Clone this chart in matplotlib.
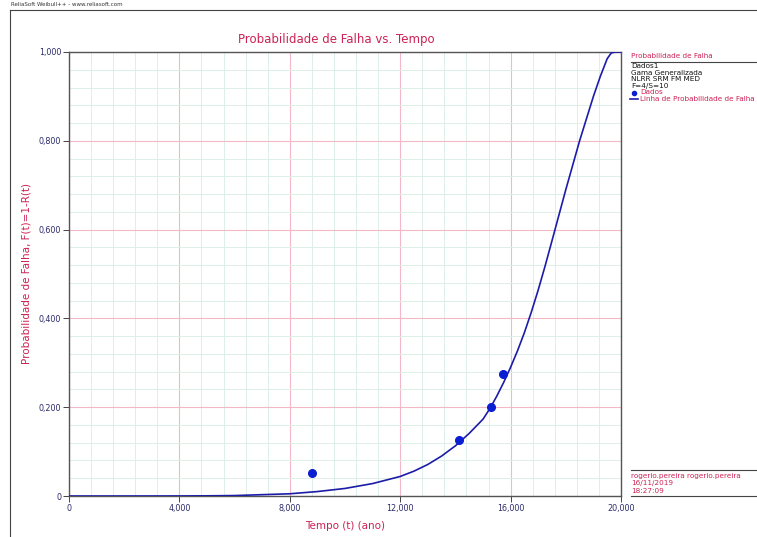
import numpy as np
import matplotlib
matplotlib.use("Agg")
import matplotlib.pyplot as plt
from matplotlib.lines import Line2D
from matplotlib.ticker import MultipleLocator, FuncFormatter

# data
dados_t = [8800, 14130, 15290, 15725]
dados_f = [0.052, 0.126, 0.200, 0.275]

linha_t = [0, 2000, 4000, 5000, 6000, 7000, 8000, 9000, 10000, 11000, 12000,
           12500, 13000, 13500, 14000, 14500, 15000, 15250, 15500, 15750, 16000,
           16250, 16500, 16750, 17000, 17250, 17500, 18000, 18500, 19000, 19250,
           19500, 19650, 19800, 20000]
linha_f = [0, 0, 0.0001, 0.0004, 0.001, 0.003, 0.005, 0.010, 0.017, 0.028, 0.044,
           0.056, 0.071, 0.090, 0.113, 0.141, 0.173, 0.197, 0.225, 0.256, 0.290,
           0.327, 0.368, 0.414, 0.464, 0.518, 0.575, 0.690, 0.800, 0.900, 0.945,
           0.985, 0.998, 1.0, 1.0]

legenda_info = ["Dados1", "Gama Generalizada", "NLRR SRM FM MED", "F=4/S=10"]
rodape = ["rogerio.pereira rogerio.pereira", "16/11/2019", "18:27:09"]

W, H = 757, 537
crimson = "#cc2255"
navy = "#2b2b6b"
blue_line = "#1c1ca8"
blue_dot = "#0a1ed2"

def px(x, y):
    return x / W, 1 - y / H

fig = plt.figure(figsize=(W / 100, H / 100), dpi=100)
fig.patch.set_facecolor("white")

ax = fig.add_axes([69 / W, (H - 496) / H, 552 / W, 444 / H])
ax.set_xlim(0, 20000)
ax.set_ylim(0, 1)

ax.xaxis.set_major_locator(MultipleLocator(4000))
ax.xaxis.set_minor_locator(MultipleLocator(800))
ax.yaxis.set_major_locator(MultipleLocator(0.2))
ax.yaxis.set_minor_locator(MultipleLocator(0.04))
ax.xaxis.set_major_formatter(FuncFormatter(lambda v, p: "0" if v == 0 else f"{int(v):,}"))
ax.yaxis.set_major_formatter(FuncFormatter(lambda v, p: "0" if v == 0 else f"{v:.3f}".replace(".", ",")))

ax.grid(which="minor", color="#dcefe6", lw=0.7)
ax.grid(which="major", color="#f2b8c8", lw=0.8)
ax.set_axisbelow(True)
ax.tick_params(which="major", length=4, width=0.7, color="#444444", labelsize=5.8,
               labelcolor=navy, pad=1.5)
ax.tick_params(which="minor", length=0)
for s in ax.spines.values():
    s.set_color("#555555")
    s.set_linewidth(1.0)

ax.plot(linha_t, linha_f, color=blue_line, lw=1.2, zorder=3)
ax.plot(dados_t, dados_f, "o", color=blue_dot, ms=5.5, zorder=4)

ax.set_xlabel("Tempo (t) (ano)", color=crimson, fontsize=7.5, labelpad=6)
ax.set_ylabel("Probabilidade de Falha, F(t)=1-R(t)", color=crimson, fontsize=7.5, labelpad=5)
fig.text(*px(336, 40), "Probabilidade de Falha vs. Tempo", color=crimson, fontsize=8.5,
         ha="center", va="center")

# frame and header
fig.add_artist(Line2D([10 / W, 1], [1 - 10 / H] * 2, color="#444444", lw=0.8))
fig.add_artist(Line2D([10 / W] * 2, [0, 1 - 10 / H], color="#444444", lw=0.8))
fig.text(*px(11, 5), "ReliaSoft Weibull++ - www.reliasoft.com", fontsize=4, color="#333333",
         ha="left", va="center")

# legend panel
fig.text(*px(631, 56), "Probabilidade de Falha", color=crimson, fontsize=5.2, ha="left", va="center")
fig.add_artist(Line2D([631 / W, 1], [1 - 62 / H] * 2, color="#444444", lw=0.8))
for i, s in enumerate(legenda_info):
    fig.text(*px(631, 66 + i * 6.6), s, color="#111111", fontsize=5.2, ha="left", va="center")
fig.add_artist(Line2D([634 / W], [1 - 92.5 / H], marker="o", color=blue_dot, ms=3, lw=0))
fig.text(*px(640, 92.5), "Dados", color=crimson, fontsize=5.2, ha="left", va="center")
fig.add_artist(Line2D([630 / W, 638 / W], [1 - 99 / H] * 2, color=blue_line, lw=1.2))
fig.text(*px(640, 99), "Linha de Probabilidade de Falha", color=crimson, fontsize=5.2,
         ha="left", va="center")

fig.add_artist(Line2D([631 / W, 1], [1 - 470 / H] * 2, color="#444444", lw=0.8))
for i, s in enumerate(rodape):
    fig.text(*px(631, 476 + i * 7.5), s, color=crimson, fontsize=5.2, ha="left", va="center")
fig.add_artist(Line2D([631 / W, 1], [1 - 496 / H] * 2, color="#444444", lw=0.8))

fig.savefig("out.png", dpi=100)
